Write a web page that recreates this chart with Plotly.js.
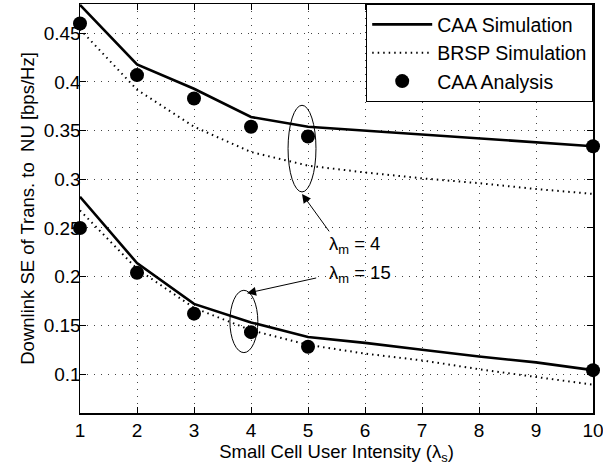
<!DOCTYPE html>
<html>
<head>
<meta charset="utf-8">
<script src="https://cdn.plot.ly/plotly-3.0.1.min.js"></script>
<style>html,body{margin:0;padding:0;background:#fff;}</style>
</head>
<body>
<div id="chart" style="width:603px;height:471px;"></div>
<script>
// Small cell user intensity (lambda_s)
const lambdaS = [1, 2, 3, 4, 5, 6, 7, 8, 9, 10];
const analysisX = [1, 2, 3, 4, 5, 10];

// lambda_m = 4
const caaSimM4  = [0.479, 0.418, 0.393, 0.364, 0.354, 0.350, 0.346, 0.342, 0.338, 0.334];
const brspSimM4 = [0.454, 0.392, 0.354, 0.328, 0.314, 0.307, 0.301, 0.296, 0.290, 0.285];
const caaAnaM4  = [0.460, 0.407, 0.383, 0.354, 0.344, 0.334];

// lambda_m = 15
const caaSimM15  = [0.282, 0.214, 0.172, 0.153, 0.138, 0.132, 0.125, 0.118, 0.112, 0.104];
const brspSimM15 = [0.268, 0.208, 0.168, 0.145, 0.130, 0.121, 0.114, 0.105, 0.097, 0.089];
const caaAnaM15  = [0.250, 0.204, 0.162, 0.143, 0.128, 0.104];

const xTicks = [1, 2, 3, 4, 5, 6, 7, 8, 9, 10];
const yTicks = [0.1, 0.15, 0.2, 0.25, 0.3, 0.35, 0.4, 0.45];
const yTickText = ['0.1', '0.15', '0.2', '0.25', '0.3', '0.35', '0.4', '0.45'];

const solid = {color: '#000', width: 2.6};
const dotted = {color: '#000', width: 2, dash: '1.5px,4px'};
const dot = {color: '#000', size: 14, symbol: 'circle'};

const traces = [
  {x: lambdaS, y: caaSimM4, mode: 'lines', line: solid, name: 'CAA Simulation', legendgroup: 'a'},
  {x: lambdaS, y: brspSimM4, mode: 'lines', line: dotted, name: 'BRSP Simulation', legendgroup: 'b'},
  {x: analysisX, y: caaAnaM4, mode: 'markers', marker: dot, name: 'CAA Analysis', legendgroup: 'c', cliponaxis: false},
  {x: lambdaS, y: caaSimM15, mode: 'lines', line: solid, showlegend: false},
  {x: lambdaS, y: brspSimM15, mode: 'lines', line: dotted, showlegend: false},
  {x: analysisX, y: caaAnaM15, mode: 'markers', marker: dot, showlegend: false, cliponaxis: false}
];

const family = 'Liberation Sans, Arial, sans-serif';
const tickFont = {family: family, size: 19, color: '#000'};
const titleFont = {family: family, size: 18.5, color: '#000'};
const legendFont = {family: family, size: 19.5, color: '#000'};
const noteFont = {family: family, size: 18.5, color: '#000'};

const axisCommon = {
  showline: true, linecolor: '#000', linewidth: 1.5, mirror: 'ticks',
  ticks: 'inside', ticklen: 6, tickcolor: '#000', tickwidth: 1,
  showgrid: true, gridcolor: '#444', gridwidth: 1, griddash: '1px,6px',
  zeroline: false, tickfont: tickFont, ticklabeloverflow: 'allow'
};

const layout = {
  width: 603, height: 471,
  margin: {l: 80, r: 10, t: 4, b: 58},
  paper_bgcolor: '#fff', plot_bgcolor: '#fff',
  font: titleFont,
  xaxis: Object.assign({}, axisCommon, {
    range: [1, 10], tickvals: xTicks,
    title: {text: 'Small Cell User Intensity (λ<sub>s</sub>)', font: titleFont, standoff: 2}
  }),
  yaxis: Object.assign({}, axisCommon, {
    range: [0.06, 0.48], tickvals: yTicks, ticktext: yTickText,
    ticklabelstandoff: -6,
    title: {text: 'Downlink SE of Trans. to  NU [bps/Hz]', font: titleFont, standoff: 4}
  }),
  legend: {
    x: 1, xanchor: 'right', y: 1, yanchor: 'top',
    bgcolor: '#fff', bordercolor: '#000', borderwidth: 1.2,
    font: legendFont, tracegroupgap: 0, itemwidth: 60
  },
  shapes: [
    {type: 'circle', xref: 'x', yref: 'y', x0: 4.65, x1: 5.14, y0: 0.287, y1: 0.376,
     line: {color: '#000', width: 1}},
    {type: 'circle', xref: 'x', yref: 'y', x0: 3.63, x1: 4.12, y0: 0.122, y1: 0.186,
     line: {color: '#000', width: 1}}
  ],
  annotations: [
    {x: 4.895, y: 0.285, xref: 'x', yref: 'y', ax: 5.39, ay: 0.245, axref: 'x', ayref: 'y',
     text: '', showarrow: true, arrowhead: 2, arrowsize: 1.8, arrowwidth: 1, arrowcolor: '#000'},
    {x: 3.93, y: 0.183, xref: 'x', yref: 'y', ax: 5.17, ay: 0.199, axref: 'x', ayref: 'y',
     text: '', showarrow: true, arrowhead: 2, arrowsize: 1.8, arrowwidth: 1, arrowcolor: '#000'},
    {x: 5.33, y: 0.233, xref: 'x', yref: 'y', xanchor: 'left', yanchor: 'middle',
     text: 'λ<sub>m</sub> = 4', showarrow: false, font: noteFont},
    {x: 5.33, y: 0.2025, xref: 'x', yref: 'y', xanchor: 'left', yanchor: 'middle',
     text: 'λ<sub>m</sub> = 15', showarrow: false, font: noteFont}
  ]
};

Plotly.newPlot('chart', traces, layout, {displayModeBar: false, staticPlot: true});
</script>
</body>
</html>
